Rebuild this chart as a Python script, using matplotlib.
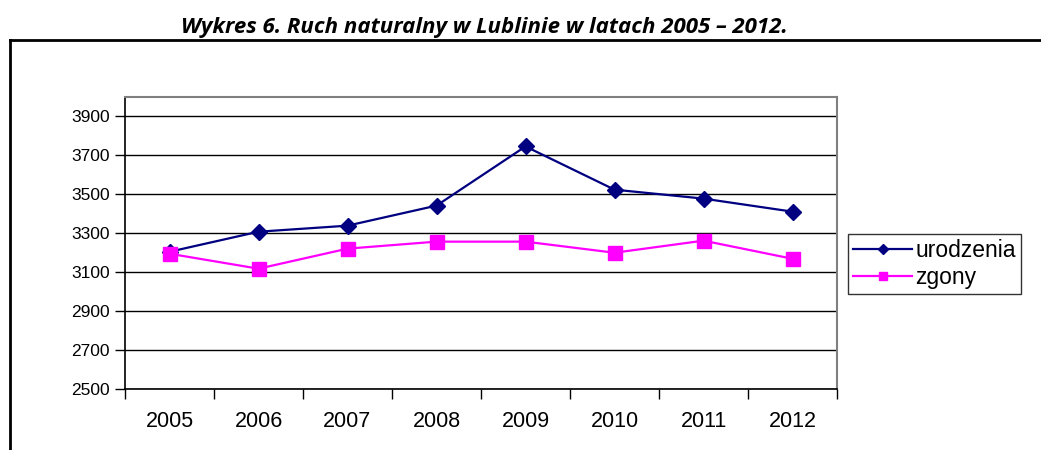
import numpy as np
import matplotlib
matplotlib.use('Agg')
import matplotlib.pyplot as plt
from matplotlib.lines import Line2D

# data
years = ['2005', '2006', '2007', '2008', '2009', '2010', '2011', '2012']
urodzenia = [3205, 3308, 3339, 3442, 3746, 3524, 3478, 3411]
zgony = [3195, 3118, 3221, 3257, 3257, 3200, 3262, 3169]
y_ticks = [2500, 2700, 2900, 3100, 3300, 3500, 3700, 3900]

plt.rcParams['font.family'] = ['Liberation Sans', 'DejaVu Sans']

fig = plt.figure(figsize=(10.41, 4.5), dpi=100)
ax = fig.add_axes([125 / 1041, 61 / 450, 712 / 1041, 292 / 450])

x = np.arange(len(years))
ax.plot(x, urodzenia, color='#000080', linewidth=1.6, marker='D', markersize=8,
        label='urodzenia', zorder=3)
ax.plot(x, zgony, color='#FF00FF', linewidth=1.6, marker='s', markersize=10,
        label='zgony', zorder=3)

ax.set_xlim(-0.5, len(years) - 0.5)
ax.set_ylim(2500, 4000)
ax.set_yticks(y_ticks)
ax.set_yticklabels([str(v) for v in y_ticks], fontsize=12.5)
ax.yaxis.grid(True, color='black', linewidth=1)
ax.set_axisbelow(True)

# category labels centered, ticks at boundaries
ax.set_xticks(x)
ax.set_xticklabels(years, fontsize=15.5)
ax.tick_params(axis='x', length=0, pad=16)
ax.set_xticks(np.arange(-0.5, len(years), 1), minor=True)
ax.tick_params(axis='x', which='minor', length=7, width=1, color='black', direction='out')
ax.tick_params(axis='y', length=7, width=1, direction='out', pad=4)

for side in ['top', 'right']:
    ax.spines[side].set_color('#808080')
    ax.spines[side].set_linewidth(1.5)
for side in ['left', 'bottom']:
    ax.spines[side].set_color('black')
    ax.spines[side].set_linewidth(1.2)

leg = ax.legend(loc='center left', bbox_to_anchor=(1.015, 0.428), fontsize=16.5,
                frameon=True, fancybox=False, edgecolor='black', handlelength=2.6,
                handletextpad=0.12, borderpad=0.22, labelspacing=0.2, markerscale=0.6,
                borderaxespad=0)
leg.get_frame().set_linewidth(1)

# outer frame lines
fig.add_artist(Line2D([10 / 1041, 1], [1 - 40 / 450, 1 - 40 / 450],
                      transform=fig.transFigure, color='black', linewidth=2))
fig.add_artist(Line2D([10 / 1041, 10 / 1041], [0, 1 - 40 / 450],
                      transform=fig.transFigure, color='black', linewidth=2))

fig.text(484 / 1041, 1 - 28 / 450, 'Wykres 6. Ruch naturalny w Lublinie w latach 2005 \u2013 2012.',
         ha='center', va='center', fontsize=16, fontweight='bold', fontstyle='italic',
         family=['Open Sans', 'DejaVu Sans'])

fig.savefig('out.png', dpi=100)
